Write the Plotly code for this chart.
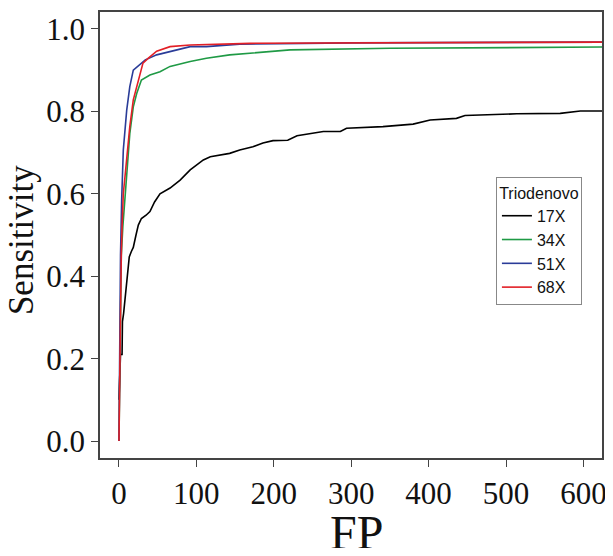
import plotly.graph_objects as go

# 17X (black)
fp_17 = [0, 1, 2, 4, 4.5, 6, 8, 10, 12, 13.3, 16, 18.5, 22, 25, 29, 35, 40, 46, 53, 66, 79, 92, 109, 118,
         143, 156, 173, 186, 199, 218, 230, 264, 286, 294, 341, 380, 402, 436, 447, 514, 570, 596, 625]
sens_17 = [0.10, 0.16, 0.21, 0.21, 0.29, 0.31, 0.35, 0.375, 0.42, 0.447, 0.46, 0.47, 0.50, 0.524, 0.54, 0.548,
           0.557, 0.58, 0.60, 0.614, 0.633, 0.658, 0.682, 0.69, 0.698, 0.706, 0.714, 0.723, 0.729, 0.73,
           0.741, 0.751, 0.751, 0.759, 0.763, 0.769, 0.779, 0.783, 0.79, 0.794, 0.795, 0.801, 0.801]

# 34X (green)
fp_34 = [0, 1, 2, 3, 5, 7.7, 10, 14, 18.5, 23, 29, 40, 53, 66, 92, 113, 143, 178, 221, 350, 625]
sens_34 = [0.0, 0.2, 0.38, 0.45, 0.52, 0.585, 0.66, 0.746, 0.811, 0.844, 0.876, 0.888, 0.896, 0.909,
           0.921, 0.929, 0.937, 0.943, 0.949, 0.953, 0.956]

# 51X (blue)
fp_51 = [0, 0.5, 1, 2, 3.5, 5.6, 10, 14, 18.5, 27, 34, 48.7, 70, 92, 113, 156, 300, 625]
sens_51 = [0.0, 0.15, 0.3, 0.45, 0.585, 0.706, 0.803, 0.86, 0.90, 0.913, 0.925, 0.937, 0.946, 0.957,
           0.957, 0.963, 0.966, 0.968]

# 68X (red)
fp_68 = [0, 1, 2, 3, 4, 5.6, 7.7, 10, 14, 18.5, 25, 31, 38, 48.7, 66, 92, 169, 300, 625]
sens_68 = [0.0, 0.2, 0.35, 0.45, 0.52, 0.6, 0.64, 0.69, 0.763, 0.828, 0.876, 0.917, 0.929, 0.946,
           0.957, 0.961, 0.965, 0.966, 0.968]

series_names = ["17X", "34X", "51X", "68X"]
series_colors = ["#000000", "#1f9a45", "#2a3c98", "#e21f26"]
series_x = [fp_17, fp_34, fp_51, fp_68]
series_y = [sens_17, sens_34, sens_51, sens_68]

x_ticks = [0, 100, 200, 300, 400, 500, 600]
y_ticks = [0.0, 0.2, 0.4, 0.6, 0.8, 1.0]

fig = go.Figure()
for name, color, xs, ys in zip(series_names, series_colors, series_x, series_y):
    fig.add_trace(go.Scatter(x=xs, y=ys, mode="lines", name=name,
                             line=dict(color=color, width=1.6)))

serif = "Liberation Serif, Times New Roman, serif"
sans = "Liberation Sans, Arial, sans-serif"
axis_common = dict(showline=True, mirror=True, linecolor="#444444", linewidth=1.5,
                   ticks="outside", tickcolor="#444444", tickwidth=1, ticklen=7,
                   showgrid=False, zeroline=False, automargin=False,
                   ticklabeloverflow="allow",
                   tickfont=dict(family=serif, size=31, color="#111111"))

# The page body adds an 8px offset, so the figure is sized/margined to compensate.
fig.update_layout(
    width=597, height=540,
    margin=dict(l=92, r=3, t=4, b=90),
    paper_bgcolor="white", plot_bgcolor="white",
    xaxis=dict(range=[-24.5, 624], tickvals=x_ticks, ticktext=[str(v) for v in x_ticks],
               **axis_common),
    yaxis=dict(range=[-0.041, 1.041], tickvals=y_ticks, ticktext=[f"{v:.1f}" for v in y_ticks],
               **axis_common),
    annotations=[
        dict(text="FP", xref="paper", yref="paper", x=0.51, y=-0.166, xanchor="center", yanchor="middle",
             showarrow=False, font=dict(family=serif, size=48, color="#111111")),
        dict(text="Sensitivity", xref="paper", yref="paper", x=-0.155, y=0.489, xanchor="center",
             yanchor="middle", textangle=-90, showarrow=False,
             font=dict(family=serif, size=35, color="#111111")),
    ],
    legend=dict(x=0.96, y=0.63, xanchor="right", yanchor="top",
                bgcolor="white", bordercolor="#888888", borderwidth=1,
                font=dict(family=sans, size=16, color="#111111"),
                title=dict(text="Triodenovo", side="top center",
                           font=dict(family=sans, size=16)),
                itemwidth=30, tracegroupgap=2),
    showlegend=True,
)

fig.write_html("out.html")
